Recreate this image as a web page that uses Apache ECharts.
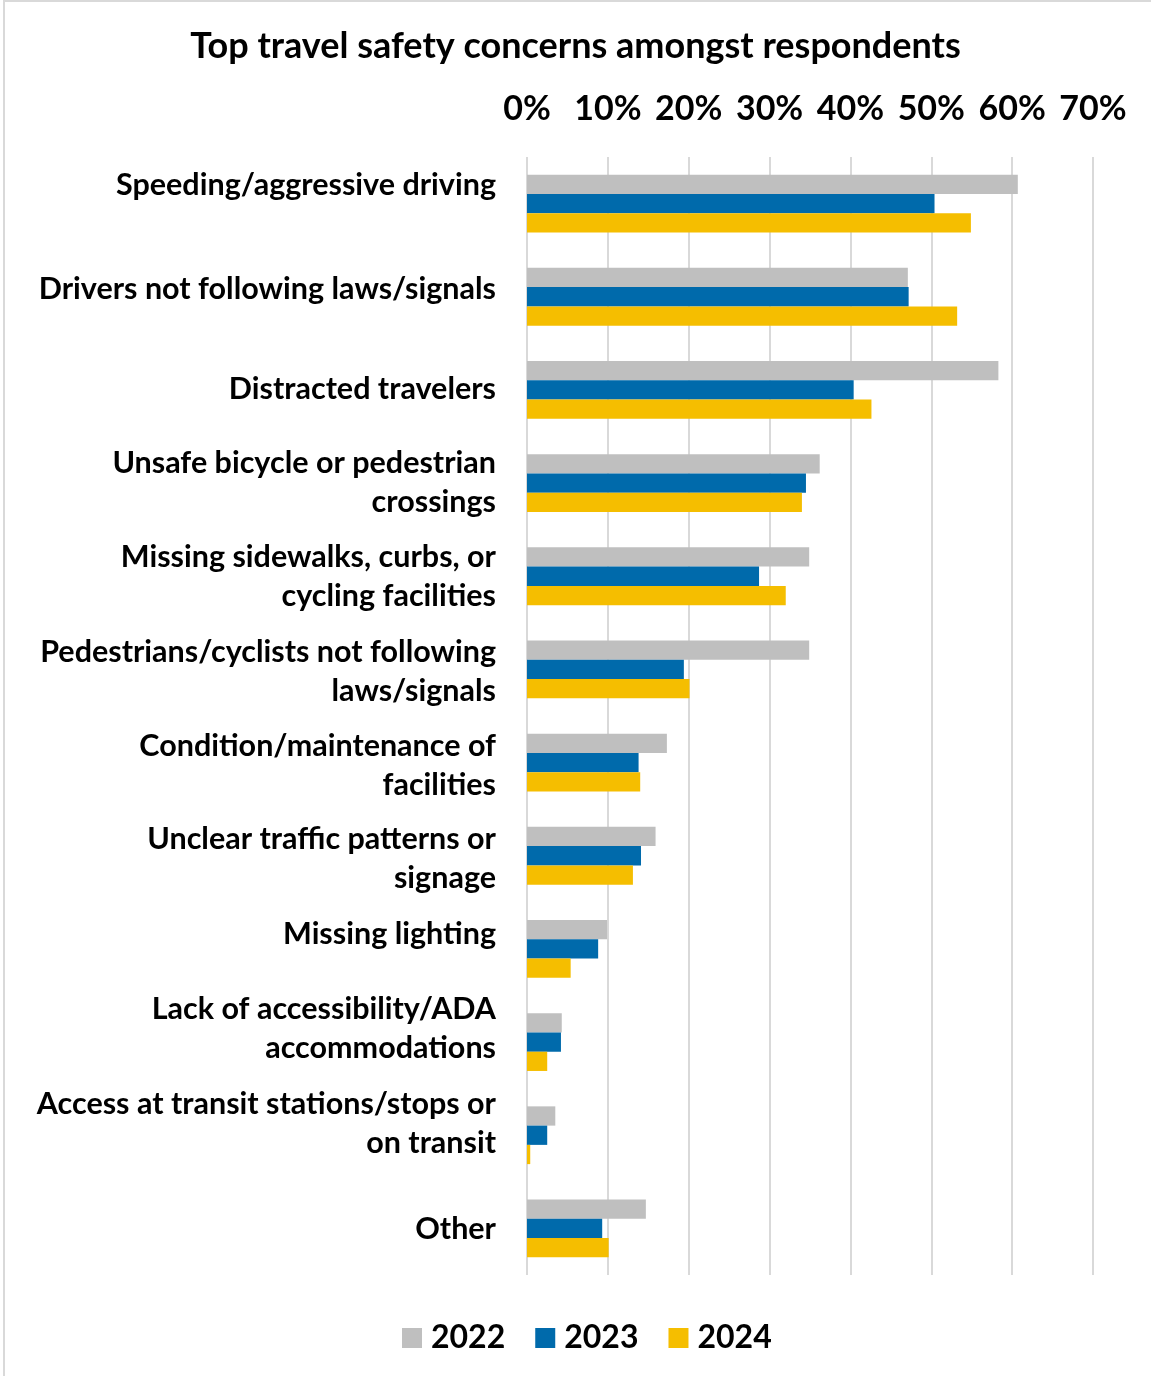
<!DOCTYPE html>
<html>
<head>
<meta charset="utf-8">
<script src="https://cdn.jsdelivr.net/npm/echarts@6/dist/echarts.min.js"></script>
<style>
  html, body { margin: 0; padding: 0; background: #fff; }
  #chart { width: 1151px; height: 1376px; }
</style>
</head>
<body>
<div id="chart"></div>
<script>
const categories = [
  'Speeding/aggressive driving',
  'Drivers not following laws/signals',
  'Distracted travelers',
  'Unsafe bicycle or pedestrian\ncrossings',
  'Missing sidewalks, curbs, or\ncycling facilities',
  'Pedestrians/cyclists not following\nlaws/signals',
  'Condition/maintenance of\nfacilities',
  'Unclear traffic patterns or\nsignage',
  'Missing lighting',
  'Lack of accessibility/ADA\naccommodations',
  'Access at transit stations/stops or\non transit',
  'Other'
];
const seriesNames = ['2022', '2023', '2024'];
const values2022 = [60.7, 47.1, 58.3, 36.2, 34.9, 34.9, 17.3, 15.9, 9.9, 4.3, 3.5, 14.7];
const values2023 = [50.4, 47.2, 40.4, 34.5, 28.7, 19.4, 13.8, 14.1, 8.8, 4.2, 2.5, 9.3];
const values2024 = [54.9, 53.2, 42.6, 34.0, 32.0, 20.1, 14.0, 13.1, 5.4, 2.5, 0.4, 10.1];
const xTicks = [0, 10, 20, 30, 40, 50, 60, 70];

// layout only: upward shift (px) of each category label
const labelLift = [18, 8, 1, 0, 0, -2, -3, -3, 15, 13, 12, -1];

const FONT = 'Lato';
const colors = ['#BFBFBF', '#006AAB', '#F5BE00'];
const LABEL_SIZE = 30.5;
const LABEL_LH = 39;

const chart = echarts.init(document.getElementById('chart'), null, { renderer: 'canvas' });

const rich = {
  t: { fontFamily: FONT, fontSize: LABEL_SIZE, fontWeight: 'bold', color: '#000', lineHeight: LABEL_LH }
};
labelLift.forEach((d, i) => {
  if (d !== 0) rich['s' + i] = { fontSize: 1, lineHeight: Math.abs(d) * 2 };
});

function labelFormatter(value, index) {
  const body = value.split('\n').map(l => '{t|' + l + '}').join('\n');
  const d = labelLift[index];
  if (d > 0) return body + '\n{s' + index + '| }';
  if (d < 0) return '{s' + index + '| }\n' + body;
  return body;
}

const allVals = [values2022, values2023, values2024];

chart.setOption({
  backgroundColor: '#ffffff',
  animation: false,
  color: colors,
  title: {
    text: 'Top travel safety concerns amongst respondents',
    left: 'center',
    top: 23,
    textStyle: { fontFamily: FONT, fontSize: 36, fontWeight: 'bold', color: '#000' }
  },
  legend: {
    data: seriesNames,
    left: 397,
    top: 1317,
    icon: 'rect',
    itemWidth: 20,
    itemHeight: 20,
    itemGap: 30,
    textStyle: { fontFamily: FONT, fontSize: 32, fontWeight: 'bold', color: '#000', padding: [0, 0, 0, 4] }
  },
  grid: { left: 527, right: 58, top: 157, bottom: 101, containLabel: false },
  xAxis: {
    type: 'value',
    position: 'top',
    min: xTicks[0],
    max: xTicks[xTicks.length - 1],
    interval: xTicks[1] - xTicks[0],
    axisLine: { show: false },
    axisTick: { show: false },
    axisLabel: {
      formatter: '{value}%',
      margin: 31,
      fontFamily: FONT, fontSize: 34, fontWeight: 'bold', color: '#000'
    },
    splitLine: { show: true, lineStyle: { color: '#D9D9D9', width: 2 } }
  },
  yAxis: {
    type: 'category',
    inverse: true,
    data: categories,
    axisLine: { show: false },
    axisTick: { show: false },
    axisLabel: {
      margin: 31,
      align: 'right',
      formatter: labelFormatter,
      rich: rich,
      fontFamily: FONT, fontSize: LABEL_SIZE, fontWeight: 'bold', color: '#000',
      lineHeight: LABEL_LH
    }
  },
  graphic: [
    { type: 'rect', shape: { x: 3, y: 0, width: 2, height: 1376 }, style: { fill: '#D9D9D9' }, silent: true },
    { type: 'rect', shape: { x: 3, y: 0, width: 1148, height: 2 }, style: { fill: '#D9D9D9' }, silent: true }
  ],
  series: seriesNames.map((name, k) => ({
    name: name,
    type: 'bar',
    data: allVals[k],
    barGap: '0%',
    barCategoryGap: '38%',
    itemStyle: { color: colors[k] }
  }))
});
</script>
</body>
</html>
